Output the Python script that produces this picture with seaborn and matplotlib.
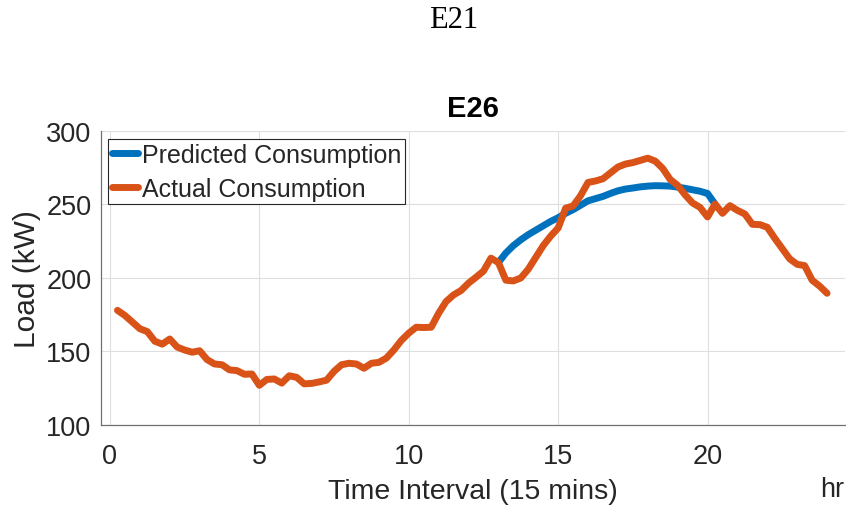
import numpy as np
import pandas as pd
import matplotlib
matplotlib.use("Agg")
import matplotlib.pyplot as plt
import seaborn as sns

# Actual load, one reading every 15 minutes (hours 0.25 .. 24.0)
actual_load = [
    178.0, 174.5, 170.0, 165.5, 163.5, 157.0, 155.0, 158.5,   # 0.25 - 2.0
    153.0, 151.0, 149.5, 150.5, 144.5, 141.5, 141.0, 137.5,   # 2.25 - 4.0
    137.0, 134.5, 134.7, 127.0, 131.0, 131.3, 128.5, 133.5,   # 4.25 - 6.0
    132.4, 128.0, 128.3, 129.3, 130.5, 136.5, 141.0, 142.0,   # 6.25 - 8.0
    141.5, 138.6, 142.0, 142.6, 145.5, 151.0, 157.5, 162.5,   # 8.25 - 10.0
    166.5, 166.3, 166.5, 176.0, 184.0, 188.5, 191.5, 196.5,   # 10.25 - 12.0
    200.5, 204.7, 213.5, 210.5, 198.5, 198.0, 200.0, 206.0,   # 12.25 - 14.0
    214.0, 222.0, 228.5, 234.0, 247.5, 249.0, 256.0, 265.0,   # 14.25 - 16.0
    266.0, 267.5, 271.5, 275.5, 277.5, 278.5, 280.0, 281.5,   # 16.25 - 18.0
    279.5, 274.5, 267.0, 263.0, 256.5, 251.0, 248.0, 241.5,   # 18.25 - 20.0
    250.3, 244.0, 249.2, 246.0, 243.5, 236.5, 236.3, 234.5,   # 20.25 - 22.0
    227.0, 220.0, 213.0, 209.3, 208.4, 198.5, 194.5, 189.6,   # 22.25 - 24.0
]
actual_hours = [0.25 * (i + 1) for i in range(len(actual_load))]

# Forecast window, hours 13.0 .. 20.25
predicted_load = [
    210.5, 217.0, 222.0, 226.0, 229.5, 232.5, 235.5, 238.5,   # 13.0 - 14.75
    241.0, 244.0, 246.5, 249.5, 252.5, 254.0, 255.5, 257.5,   # 15.0 - 16.75
    259.3, 260.5, 261.2, 262.0, 262.5, 262.8, 262.7, 262.5,   # 17.0 - 18.75
    261.8, 261.0, 260.0, 259.0, 257.5, 250.3,                 # 19.0 - 20.25
]
predicted_hours = [13.0 + 0.25 * i for i in range(len(predicted_load))]

x_ticks = [0, 5, 10, 15, 20]
y_ticks = [100, 150, 200, 250, 300]
series_names = ["Predicted Consumption", "Actual Consumption"]
series_colors = {"Predicted Consumption": "#0072BD",
                 "Actual Consumption": "#D95319"}

df = pd.concat([
    pd.DataFrame({"hour": predicted_hours, "load": predicted_load,
                  "series": series_names[0]}),
    pd.DataFrame({"hour": actual_hours, "load": actual_load,
                  "series": series_names[1]}),
], ignore_index=True)

sns.set_style("white")
plt.rcParams["font.family"] = ["Liberation Sans", "DejaVu Sans"]

fig = plt.figure(figsize=(8.46, 5.10), dpi=100)
ax = fig.add_axes([0.1194, 0.1647, 0.8794, 0.5765])

sns.lineplot(data=df, x="hour", y="load", hue="series",
             hue_order=series_names, palette=series_colors,
             linewidth=5, ax=ax, sort=False, estimator=None)
for line in ax.get_lines():
    line.set_solid_joinstyle("round")

ax.set_xlim(-0.3, 24.6)
ax.set_ylim(100, 300)
ax.set_xticks(x_ticks)
ax.set_yticks(y_ticks)
ax.grid(True, color="#dedede", linewidth=0.8)
ax.set_axisbelow(True)

for side in ("top", "right"):
    ax.spines[side].set_visible(False)
for side in ("left", "bottom"):
    ax.spines[side].set_color("#707070")
    ax.spines[side].set_linewidth(0.9)

ax.tick_params(axis="both", direction="in", length=5, width=0.9,
               color="#707070", labelsize=19.5, labelcolor="#262626")
ax.tick_params(axis="x", pad=13)
ax.tick_params(axis="y", pad=7)

ax.set_xlabel("Time Interval (15 mins)", fontsize=20.5, color="#262626",
              va="center")
ax.xaxis.set_label_coords(0.5, -0.223)
ax.set_ylabel("Load (kW)", fontsize=21.5, color="#262626",
              va="center", ha="center")
ax.yaxis.set_label_coords(-0.0995, 0.5)

leg = ax.legend(loc="upper left", bbox_to_anchor=(0.0094, 0.9728),
                borderaxespad=0, fontsize=18, handlelength=1.05,
                handletextpad=0.15, labelspacing=0.4, borderpad=0.15,
                fancybox=False, framealpha=1, edgecolor="#262626")
leg.get_frame().set_linewidth(0.8)
for h in leg.get_lines():
    h.set_linewidth(5)

fig.text(473 / 846, 1 - 109 / 510, "E26", ha="center", va="center",
         fontsize=21, fontweight="bold", color="black")
fig.text(454 / 846, 1 - 21 / 510, "E21", ha="center", va="center",
         fontsize=22, family=["Liberation Serif", "DejaVu Serif"],
         color="black")
fig.text(832 / 846, 1 - 490 / 510, "hr", ha="center", va="center",
         fontsize=19.5, color="#262626")

fig.savefig("out.png", dpi=100)
